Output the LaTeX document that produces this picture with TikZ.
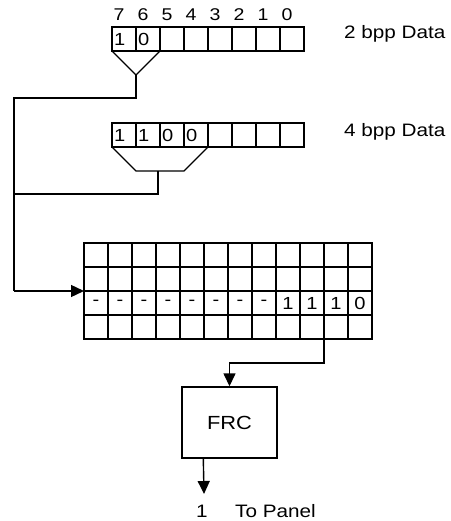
\documentclass[tikz,border=0pt]{standalone}
\usepackage{fontspec}
\setmainfont{Liberation Sans}[FakeStretch=1.15]
\usetikzlibrary{arrows.meta}
\tikzset{
  wire/.style={line width=1.4pt},
  arr/.style={wire,-{Triangle[length=13pt,width=12pt]}},
  bitcell/.style={draw,line width=1.4pt,minimum width=24pt,minimum height=24pt,inner xsep=2pt,inner ysep=0pt,text width=20pt,align=left,anchor=north west,outer sep=0pt,font=\fontsize{17.5}{17.5}\selectfont},
  gridcell/.style={draw,line width=1.4pt,minimum width=24pt,minimum height=24pt,inner sep=0pt,anchor=north west,outer sep=0pt,font=\fontsize{17.5}{17.5}\selectfont},
  bitlabel/.style={font=\fontsize{17}{17}\selectfont,inner sep=0pt},
  lbl/.style={font=\fontsize{18}{18}\selectfont,inner sep=0pt},
  frcbox/.style={draw,line width=1.4pt,minimum width=95pt,minimum height=71pt,inner sep=0pt,font=\fontsize{19}{19}\selectfont}
}
\begin{document}
\begin{tikzpicture}[x=1pt,y=-1pt]
\useasboundingbox (0,0) rectangle (450,521);
% 2 bpp row
\foreach \i/\t in {0/1,1/0,2/{},3/{},4/{},5/{},6/{},7/{}}
  \node[bitcell] (t\i) at ({112+24*\i},27) {\t};
\foreach \i/\b in {0/7,1/6,2/5,3/4,4/3,5/2,6/1,7/0}
  \node[bitlabel] (bl\i) at ({119+24*\i},15) {\b};
\node[lbl,anchor=west] (l2) at (344,34) {2 bpp Data};
% 4 bpp row
\foreach \i/\t in {0/1,1/1,2/0,3/0,4/{},5/{},6/{},7/{}}
  \node[bitcell] (f\i) at ({112+24*\i},123) {\t};
\node[lbl,anchor=west] (l4) at (344,132) {4 bpp Data};
% big grid
\foreach \r in {0,...,3}
  \foreach \c in {0,...,11}
    \node[gridcell] (g\r-\c) at ({84+24*\c},{243+24*\r}) {};
\foreach \c in {0,...,7}
  \node[gridcell] (d\c) at (g2-\c.north west) {-};
\foreach \c/\t in {8/1,9/1,10/1,11/0}
  \node[gridcell] (v\c) at (g2-\c.north west) {\t};
% funnels
\coordinate (p2) at (136,75);
\draw[wire] (t0.south west) -- (p2) -- (t1.south east);
\coordinate (p2b) at (136,98);
\coordinate (lx) at (14,98);
\coordinate (q4a) at (136,171);
\coordinate (q4b) at (184,171);
\draw[wire] (f0.south west) -- (q4a) -- (q4b) -- (f3.south east);
\coordinate (p4) at (158,171);
\coordinate (p4b) at (158,194);
\coordinate (lx4) at (14,194);
\coordinate (lxe) at (14,291);
\draw[wire] (p2) -- (p2b) -- (lx) -- (lxe);
\draw[arr] (lxe) -- (g2-0.north west);
\draw[wire] (p4) -- (p4b) -- (lx4);
% FRC
\node[frcbox] (frc) at (229.5,422.5) {FRC};
\coordinate (go) at (g3-10.south west);
\draw[arr] (go) -- ++(0,24) -| (frc.north);
\node[lbl] (one) at (202,511) {1};
\node[lbl,anchor=west] (panel) at (235,511) {To Panel};
\coordinate (fo) at ([xshift=22pt]frc.south west);
\coordinate (tip) at (204,494);
\draw[arr] (fo) -- (tip);
\end{tikzpicture}
\end{document}
